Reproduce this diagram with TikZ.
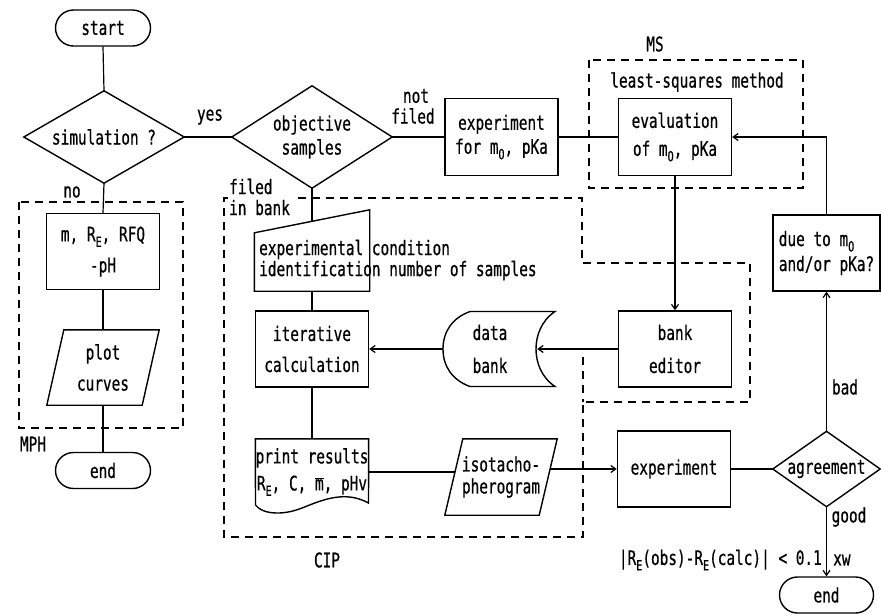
\documentclass[tikz,border=0pt]{standalone}
\usepackage{fontspec}
\setmainfont{DejaVu Sans Mono}[FakeStretch=0.72,FakeBold=0.6]
\usetikzlibrary{shapes.misc,arrows.meta,calc}
\newcommand\mysub[1]{\raisebox{-0.5ex}{\fontsize{14}{14}\selectfont #1}}
\begin{document}
\begin{tikzpicture}[x=1pt,y=-1pt,
  font=\fontsize{20}{21}\selectfont,
  box/.style={draw, line width=1.4pt, minimum width=113pt, minimum height=76pt, inner sep=0pt, align=center},
  term/.style={draw, line width=1.4pt, rounded rectangle, minimum width=95pt, minimum height=36pt, inner sep=0pt},
  shp/.style={inner sep=0pt, align=center},
  outl/.style={line width=1.4pt, line join=miter},
  conn/.style={line width=1.2pt},
  arr/.style={conn, -{Straight Barb[length=5pt,width=7pt]}},
  dbox/.style={line width=1.8pt, dash pattern=on 8pt off 6pt},
  lab/.style={inner sep=0pt}]
\useasboundingbox (0,0) rectangle (881,614);

% dashed groups
\draw[dbox] (19,202) rectangle (183,428);
\draw[dbox] (589,60) rectangle (803,188);
\draw[dbox] (298,198) -- (582,198) -- (582,263) -- (750,263) -- (750,402) -- (583,402) -- (583,537) -- (224,537) -- (224,198) -- (229,198);
\draw[dbox] (583,357) -- (583,402);

% left column
\node[term] (start) at (103,28) {start};
\node[shp, minimum width=160pt, minimum height=92pt] (sim) at (104,137) {simulation ?};
\draw[outl] (sim.west) -- (sim.north) -- (sim.east) -- (sim.south) -- cycle;
\node[box] (mbox) at (103,251.5) {m, R\mysub{E}, RFQ\\[10pt]-pH};
\node[shp, minimum width=112pt, minimum height=75pt] (plot) at (103,367.5) {plot\\[10pt]curves};
\draw[outl] (plot.south west) -- ($(plot.north west)+(17,0)$) -- (plot.north east) -- ($(plot.south east)+(-17,0)$) -- cycle;
\node[term] (end1) at (103,470.5) {end};

% middle
\node[shp, minimum width=160pt, minimum height=102pt] (obj) at (312,137) {objective\\[3pt]samples};
\draw[outl] (obj.west) -- (obj.north) -- (obj.east) -- (obj.south) -- cycle;
\node[box, minimum height=77pt] (expm) at (501.5,137) {experiment\\[3pt]for m\mysub{O}, pKa};
\node[box, minimum height=77pt] (eval) at (675,137) {evaluation\\[7pt]of m\mysub{O}, pKa};

\node[shp, minimum width=115pt, minimum height=81pt] (cond) at (312,250.5) {};
\draw[outl] (cond.south west) -- ($(cond.north west)+(0,23)$) -- (cond.north east) -- (cond.south east) -- cycle;
\coordinate (condtop) at (312,221.5);
\node[lab, anchor=west, align=left] (condtxt) at (259,260) {experimental condition\\identification number of samples};

\node[box] (iter) at (312,349) {iterative\\[10pt]calculation};
\node[shp, minimum width=94pt, minimum height=75pt] (bank) at (490,349) {data\\[12pt]bank};
\draw[outl] (470,311.5) -- (555,311.5) .. controls (541,321) and (536,336) .. (536,349) .. controls (536,362) and (541,377) .. (555,386.5) -- (470,386.5) .. controls (452,380) and (443,366) .. (443,349) .. controls (443,332) and (452,318) .. (470,311.5) -- cycle;
\node[box] (editor) at (675,349) {bank\\[12pt]editor};

\node[shp, minimum width=113pt, minimum height=66pt] (print) at (312,472) {print results\\[6pt]R\mysub{E}, C, \ensuremath{\overline{\mbox{m}}}, pHv};
\draw[outl] (print.north west) -- (print.north east) -- (368.5,503) .. controls (345,490) and (322,500) .. (302,508) .. controls (282,516) and (262,514) .. (255.5,505) -- cycle;
\node[shp, minimum width=112pt, minimum height=76pt] (iso) at (501,477) {isotacho-\\[1pt]pherogram};
\draw[outl] (iso.south west) -- ($(iso.north west)+(18,0)$) -- (iso.north east) -- ($(iso.south east)+(-18,0)$) -- cycle;
\coordinate (isoin) at (455.2,472);
\coordinate (isoout) at (549.9,469);

% right
\node[box] (exp) at (674,469) {experiment};
\node[shp, minimum width=107pt, minimum height=75pt] (agree) at (826.5,469) {agreement};
\draw[outl] (agree.west) -- (agree.north) -- (agree.east) -- (agree.south) -- cycle;
\node[box, minimum width=107pt, align=left] (due) at (826.5,253) {due to m\mysub{O}\\[4pt]and/or pKa?};
\node[term, minimum width=94pt] (end2) at (826.5,595) {end};

% connectors
\draw[conn] (start.south) -- (sim.north);
\draw[conn] (sim.east) -- (obj.west);
\draw[conn] (sim.south) -- (mbox.north);
\draw[conn] (mbox.south) -- (plot.north);
\draw[conn] (plot.south) -- (end1.north);
\draw[conn] (obj.east) -- (expm.west);
\draw[conn] (expm.east) -- (eval.west);
\draw[conn] (obj.south) -- (condtop);
\draw[conn] (cond.south) -- (iter.north);
\draw[conn] (iter.south) -- (print.north);
\draw[conn] (print.east) -- (isoin);
\draw[arr] (isoout) -- (exp.west);
\draw[conn] (exp.east) -- (agree.west);
\draw[arr] (agree.north) -- (due.south);
\draw[arr] (agree.south) -- (end2.north);
\draw[arr] (due.north) |- (eval.east);
\draw[arr] (eval.south) -- (editor.north);
\draw[arr] (editor.west) -- (bank.east);
\draw[arr] (bank.west) -- (iter.east);

% labels
\node[lab] (lyes) at (210,117) {yes};
\node[lab] (lno) at (72,192) {no};
\node[lab] (lnot) at (416,96) {not};
\node[lab] (lfiledr) at (413,116) {filed};
\node[lab, anchor=west, align=left] (lfiled) at (229,197) {filed\\in bank};
\node[lab] (lms) at (655,44) {MS};
\node[lab] (llsq) at (697,82) {least-squares method};
\node[lab] (lmph) at (33,444) {MPH};
\node[lab] (lcip) at (327,560) {CIP};
\node[lab] (lbad) at (845,387) {bad};
\node[lab] (lgood) at (849,517) {good};
\node[lab, anchor=east] (lcrit) at (822,560) {|R\mysub{E}(obs)-R\mysub{E}(calc)| < 0.1};
\node[lab, anchor=west] (lxw) at (833,560) {xw};
\end{tikzpicture}
\end{document}
